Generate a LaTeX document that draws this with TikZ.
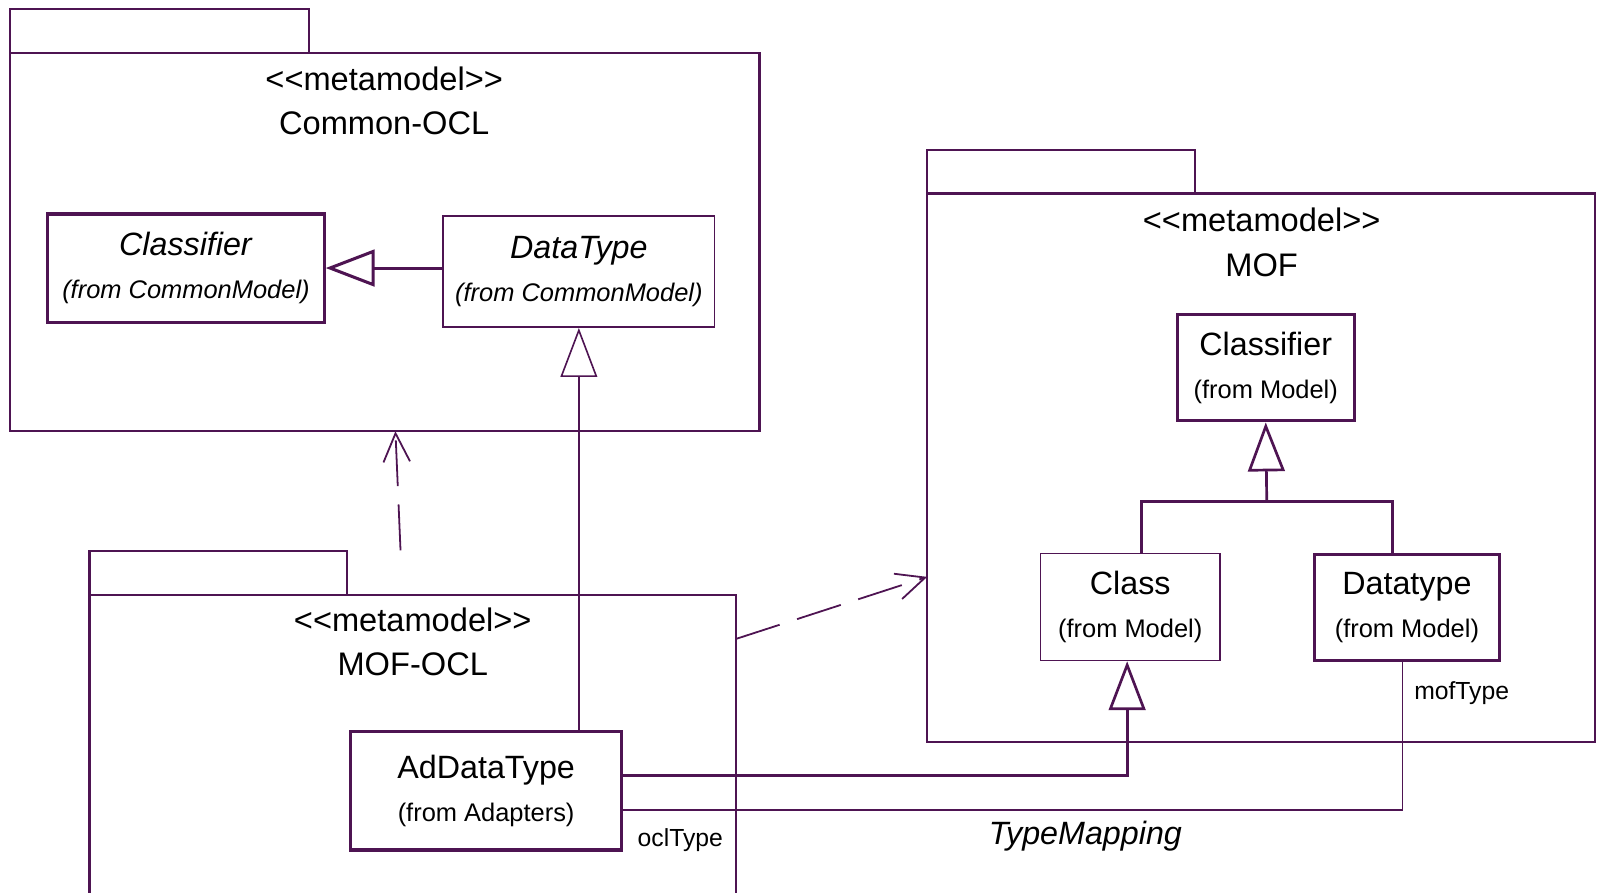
\documentclass[tikz,border=0pt]{standalone}
\usepackage{fontspec}
\setmainfont{Liberation Sans}
\usepackage{tikz}
\usepackage{xcolor}
\usetikzlibrary{arrows.meta,calc}

\definecolor{umlpurple}{RGB}{78,20,82}
\newcommand{\stereo}[1]{<\kern0pt<#1>\kern0pt>}
\newcommand{\fromline}[1]{{\fontsize{7.1}{11.8}\selectfont (from #1)}}

\begin{document}
\begin{tikzpicture}[x=0.01cm, y=-0.01cm, >=Stealth,
  box/.style={draw=umlpurple, line width=0.45pt, inner sep=0pt, align=center,
    font=\fontsize{9}{11.8}\selectfont},
  thickbox/.style={box, line width=0.85pt},
  pkg/.style={draw=umlpurple, line width=0.6pt, inner sep=0pt, outer sep=0pt},
  pkgtext/.style={inner sep=0pt, font=\fontsize{9.1}{11}\selectfont},
  rolelabel/.style={inner sep=0pt, anchor=west, font=\fontsize{6.9}{8}\selectfont},
  gen/.style={draw=umlpurple, line width=0.45pt, -{Triangle[open, length=0.48cm, width=0.36cm]}},
  dep/.style={draw=umlpurple, line width=0.5pt, dash pattern=on 0.45cm off 0.18cm,
    -{Straight Barb[length=0.28cm, width=0.26cm]}}]
\useasboundingbox (0,0) rectangle (1568,876);
\clip (0,0) rectangle (1568,876);

% packages
\node[pkg, minimum width=7.35cm, minimum height=3.71cm] (cocl) at (377.5,237.5) {};
\draw[pkg] (cocl.north west) rectangle ++(293,-43);
\node[pkgtext] (coclst) at (377,77) {\stereo{metamodel}};
\node[pkgtext] (coclnm) at (377,121) {Common-OCL};

\node[pkg, minimum width=6.34cm, minimum height=3.3cm] (mocl) at (405,749) {};
\draw[pkg] (mocl.north west) rectangle ++(253,-43);
\node[pkgtext] (moclst) at (405,608) {\stereo{metamodel}};
\node[pkgtext] (moclnm) at (405,652) {MOF-OCL};

\node[pkg, minimum width=6.55cm, minimum height=5.38cm] (mof) at (1237.5,459) {};
\draw[pkg] (mof.north west) rectangle ++(263,-43);
\node[pkgtext] (mofst) at (1238,216) {\stereo{metamodel}};
\node[pkgtext] (mofnm) at (1238,260) {MOF};

% classes
\node[thickbox, minimum width=2.71cm, minimum height=1.06cm] (ccls) at (182.5,263)
  {\textit{Classifier}\\\textit{\fromline{CommonModel}}};
\node[box, minimum width=2.66cm, minimum height=1.09cm] (cdt) at (568,266.5)
  {\textit{DataType}\\\textit{\fromline{CommonModel}}};
\node[thickbox, minimum width=2.66cm, minimum height=1.16cm] (adt) at (477,776)
  {AdDataType\\\fromline{Adapters}};
\node[thickbox, minimum width=1.74cm, minimum height=1.04cm] (mcls) at (1242,361)
  {Classifier\\\fromline{Model}};
\node[box, minimum width=1.76cm, minimum height=1.05cm] (mcl) at (1109,595.5)
  {Class\\\fromline{Model}};
\node[thickbox, minimum width=1.81cm, minimum height=1.04cm] (mdt) at (1380.5,596)
  {Datatype\\\fromline{Model}};

% generalizations
\draw[gen, line width=0.85pt] (cdt.west |- ccls.east) -- (ccls.east);
\draw[gen] (cdt.south |- adt.north) -- (cdt.south);
\coordinate (bus) at (1243,492);
\draw[gen, line width=0.75pt] (bus) -- (mcls.south);
\draw[umlpurple, line width=0.75pt] ([xshift=0.11cm]mcl.north) |- (bus) -| ([xshift=-0.14cm]mdt.north);
\draw[gen, line width=0.75pt] ([yshift=0.15cm]adt.east) -| ([xshift=-0.03cm]mcl.south);

% association
\draw[umlpurple, line width=0.45pt] ([yshift=-0.19cm]adt.east) -| ([xshift=-0.045cm]mdt.south);
\node[rolelabel] (moftype) at (1387,680) {mofType};
\node[rolelabel] (ocltype) at (625,824) {oclType};
\node[inner sep=0pt, font=\fontsize{9}{11}\selectfont\itshape] (tmap) at (1065,820) {TypeMapping};

% dependencies
\coordinate (depa) at (393,540);
\draw[dep] (depa) -- ([xshift=0.105cm]cocl.south);
\draw[dep] ([yshift=-0.43cm]mocl.north east) -- ([yshift=-1.07cm]mof.west);
\end{tikzpicture}
\end{document}
